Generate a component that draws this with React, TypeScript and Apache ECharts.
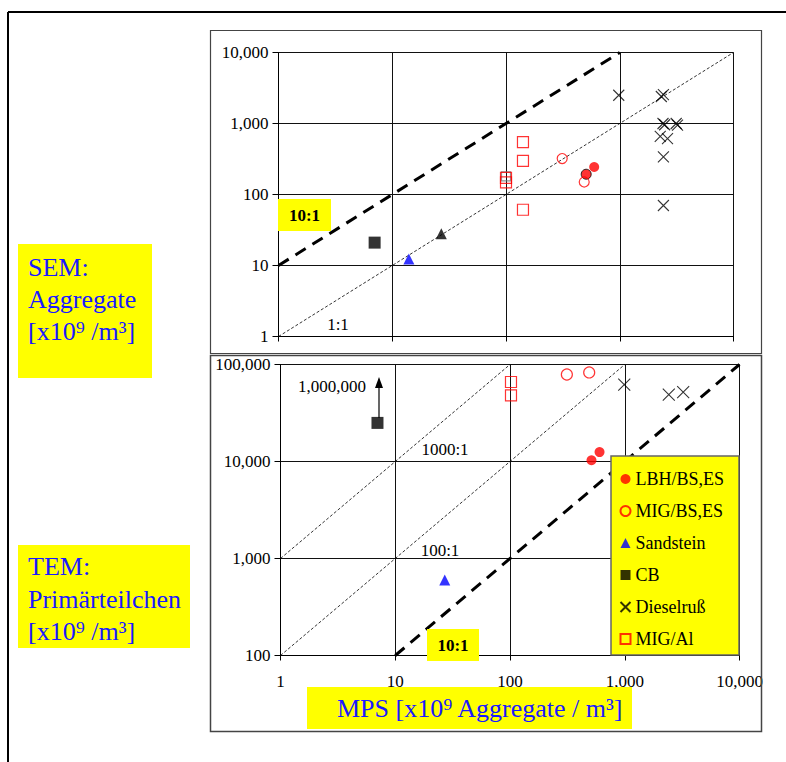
import React, { useEffect, useRef } from "react";
import * as echarts from "echarts";

// ---- data (SEM: aggregates vs MPS) ----
const semLbh = [[596, 244]];
const semLbhOutlined = [[507, 193]];
const semMigBs = [[312, 321], [487, 150]];
const semSandstein = [[14, 12.3]];
const semBlackTriangle = [[27, 28]];
const semCb = [[7, 21]];
const semDiesel = [
  [980, 2500], [2320, 2400], [2420, 2550], [2400, 1000], [2480, 960],
  [3135, 1000], [3220, 946], [2270, 660], [2630, 614], [2420, 338], [2420, 70],
];
const semMigAl = [[141, 545], [141, 297], [100, 172], [100, 148], [141, 61]];
const semGraySquare = [[100, 180]];

// ---- data (TEM: primary particles vs MPS) ----
const temLbh = [[513, 10300], [603, 12500]];
const temMigBs = [[313, 78800], [490, 82800]];
const temSandstein = [[27, 600]];
const temCb = [[7, 25000]];
const temDiesel = [[990, 62000], [2420, 49000], [3230, 52000]];
const temMigAl = [[102, 66000], [102, 48000]];

// ---- reference ratio lines ----
const semRatio10 = [[1, 10], [1000, 10000]];
const semRatio1 = [[1, 1], [10000, 10000]];
const temRatio1000 = [[1, 1000], [100, 100000]];
const temRatio100 = [[1, 100], [1000, 100000]];
const temRatio10 = [[10, 100], [10000, 100000]];

const legendNames = ["LBH/BS,ES", "MIG/BS,ES", "Sandstein", "CB", "Dieselruß", "MIG/Al"];

const SERIF = "'Liberation Serif', 'Times New Roman', serif";
const BLUE = "#1a1aff";
const YELLOW = "#ffff00";
const X_PATH = "path://M0,0L10,10M10,0L0,10";

const fmt = (v: number) => Number(v).toLocaleString("en-US");

function scatter(name: string, data: number[][], idx: number, symbol: string, size: number, itemStyle: any) {
  return {
    type: "scatter",
    name,
    data,
    xAxisIndex: idx,
    yAxisIndex: idx,
    symbol,
    symbolSize: size,
    itemStyle,
    z: 3,
    emphasis: { disabled: true },
  };
}

function ratioLine(data: number[][], idx: number, thick: boolean) {
  return {
    type: "line",
    data,
    xAxisIndex: idx,
    yAxisIndex: idx,
    symbol: "none",
    silent: true,
    z: 2,
    lineStyle: thick
      ? { color: "#000", width: 3, type: [12, 8] }
      : { color: "#000", width: 0.8, type: [3, 2] },
  };
}

function xAxis(idx: number, showLabels: boolean) {
  return {
    type: "log",
    logBase: 10,
    gridIndex: idx,
    min: 1,
    max: 10000,
    axisLine: { lineStyle: { color: "#000", width: 1 } },
    axisTick: { show: true, inside: false, length: 5, lineStyle: { color: "#000" } },
    axisLabel: {
      show: showLabels,
      formatter: fmt,
      fontFamily: SERIF,
      fontSize: 17,
      color: "#000",
      margin: 17,
    },
    splitLine: { show: true, lineStyle: { color: "#111", width: 1, type: "solid" } },
    minorTick: { show: false },
  };
}

function yAxis(idx: number, min: number, max: number) {
  return {
    type: "log",
    logBase: 10,
    gridIndex: idx,
    min,
    max,
    axisLine: { lineStyle: { color: "#000", width: 1 } },
    axisTick: { show: true, inside: false, length: 6, lineStyle: { color: "#000" } },
    axisLabel: {
      formatter: fmt,
      fontFamily: SERIF,
      fontSize: 17,
      color: "#000",
      margin: 10,
    },
    splitLine: { show: true, lineStyle: { color: "#111", width: 1, type: "solid" } },
  };
}

function text(x: number, y: number, t: string, opts: any = {}) {
  return {
    type: "text",
    x,
    y,
    z: 6,
    style: {
      text: t,
      fill: opts.fill || "#000",
      fontFamily: SERIF,
      fontSize: opts.fontSize || 17,
      fontWeight: opts.fontWeight || "normal",
      align: opts.align || "center",
      verticalAlign: "middle",
      textAlign: opts.align || "center",
      textVerticalAlign: "middle",
    },
  };
}

function box(x: number, y: number, w: number, h: number, z = 3, stroke?: string) {
  return {
    type: "rect",
    z,
    shape: { x, y, width: w, height: h },
    style: { fill: YELLOW, stroke: stroke || "none", lineWidth: stroke ? 1.5 : 0 },
  };
}

function frame(x: number, y: number, w: number, h: number, color: string, lw: number) {
  return {
    type: "rect",
    z: 1,
    shape: { x, y, width: w, height: h },
    style: { fill: "none", stroke: color, lineWidth: lw },
  };
}

export default function App() {
  const ref = useRef<HTMLDivElement>(null);

  useEffect(() => {
    if (!ref.current) return;
    const chart = echarts.init(ref.current, undefined, { renderer: "svg" });

    const circleFill = { color: "#ff0000" };
    const circleOpen = { color: "transparent", borderColor: "#ff0000", borderWidth: 1.2 };
    const triBlue = { color: "#0000ff" };
    const sqBlack = { color: "#000" };
    const xStyle = { color: "none", borderColor: "#000", borderWidth: 1.1 };
    const sqOpen = { color: "transparent", borderColor: "#ff0000", borderWidth: 1.2 };

    const option: any = {
      animation: false,
      backgroundColor: "#fff",
      grid: [
        { left: 278.5, top: 52.5, width: 455, height: 284, containLabel: false },
        { left: 280.5, top: 364.5, width: 459, height: 291, containLabel: false },
      ],
      xAxis: [xAxis(0, false), xAxis(1, true)],
      yAxis: [yAxis(0, 1, 10000), yAxis(1, 100, 100000)],
      legend: {
        data: legendNames,
        orient: "vertical",
        left: 618,
        top: 470,
        padding: 0,
        itemGap: 14,
        itemWidth: 10,
        itemHeight: 10,
        selectedMode: false,
        z: 5,
        textStyle: { fontFamily: SERIF, fontSize: 18, color: "#000" },
      },
      graphic: [
        // outer page frame
        { type: "line", z: 1, shape: { x1: 8, y1: 12, x2: 786, y2: 12 }, style: { stroke: "#000", lineWidth: 2 } },
        { type: "line", z: 1, shape: { x1: 8, y1: 12, x2: 8, y2: 762 }, style: { stroke: "#000", lineWidth: 2 } },
        // chart frames
        frame(210.5, 30.5, 551, 323, "#444", 1.2),
        frame(210.5, 355.5, 551, 376, "#444", 1.5),
        // left labels
        box(18, 244, 134, 134, 1),
        text(28, 267, "SEM:", { align: "left", fill: BLUE, fontSize: 26 }),
        text(28, 299, "Aggregate", { align: "left", fill: BLUE, fontSize: 26 }),
        text(28, 331, "[x10⁹ /m³]", { align: "left", fill: BLUE, fontSize: 26 }),
        box(18, 545, 172, 103, 1),
        text(28, 566, "TEM:", { align: "left", fill: BLUE, fontSize: 26 }),
        text(28, 599, "Primärteilchen", { align: "left", fill: BLUE, fontSize: 26 }),
        text(28, 631, "[x10⁹ /m³]", { align: "left", fill: BLUE, fontSize: 26 }),
        // x axis title
        box(307, 687, 325, 42, 1),
        text(337, 708, "MPS [x10⁹ Aggregate / m³]", { align: "left", fill: BLUE, fontSize: 26 }),
        // top plot annotations
        box(278, 199, 53, 32, 3),
        text(304.5, 215, "10:1", { fontWeight: "bold" }),
        text(338, 324, "1:1"),
        // bottom plot annotations
        text(445, 449, "1000:1"),
        text(440, 550, "100:1"),
        box(427, 629, 52, 32, 3),
        text(453, 645, "10:1", { fontWeight: "bold" }),
        text(332, 386, "1,000,000"),
        { type: "line", z: 6, shape: { x1: 379, y1: 418, x2: 379, y2: 386 }, style: { stroke: "#000", lineWidth: 1.2 } },
        { type: "polygon", z: 6, shape: { points: [[379, 377], [375, 388], [383, 388]] }, style: { fill: "#000" } },
        // legend box
        box(611, 456, 128, 199, 3, "#666"),
      ],
      series: [
        ratioLine(semRatio10, 0, true),
        ratioLine(semRatio1, 0, false),
        ratioLine(temRatio1000, 1, false),
        ratioLine(temRatio100, 1, false),
        ratioLine(temRatio10, 1, true),

        scatter("LBH/BS,ES", semLbh, 0, "circle", 10, circleFill),
        scatter("LBH/BS,ES", semLbhOutlined, 0, "circle", 10, { color: "#ff0000", borderColor: "#000", borderWidth: 1 }),
        scatter("MIG/BS,ES", semMigBs, 0, "circle", 10, circleOpen),
        scatter("Sandstein", semSandstein, 0, "triangle", 11, triBlue),
        scatter("extra-triangle", semBlackTriangle, 0, "triangle", 11, { color: "#000" }),
        scatter("CB", semCb, 0, "rect", 12, sqBlack),
        scatter("Dieselruß", semDiesel, 0, X_PATH, 11, xStyle),
        scatter("extra-square", semGraySquare, 0, "rect", 9, { color: "transparent", borderColor: "#777", borderWidth: 1.2 }),
        scatter("MIG/Al", semMigAl, 0, "rect", 11, sqOpen),

        scatter("LBH/BS,ES", temLbh, 1, "circle", 10, circleFill),
        scatter("MIG/BS,ES", temMigBs, 1, "circle", 11, circleOpen),
        scatter("Sandstein", temSandstein, 1, "triangle", 11, triBlue),
        scatter("CB", temCb, 1, "rect", 12, sqBlack),
        scatter("Dieselruß", temDiesel, 1, X_PATH, 12, xStyle),
        scatter("MIG/Al", temMigAl, 1, "rect", 11, sqOpen),
      ],
    };

    chart.setOption(option);
    return () => chart.dispose();
  }, []);

  return (
    <div style={{ position: "fixed", left: 0, top: 0, width: 786, height: 762, background: "#fff" }}>
      <div ref={ref} style={{ width: 786, height: 762 }} />
    </div>
  );
}
